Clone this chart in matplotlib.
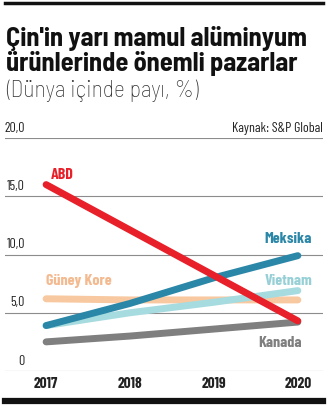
import matplotlib.pyplot as plt

COND = ['Barlow Condensed', 'Roboto Condensed', 'DejaVu Sans']
SEMI = ['Barlow Semi Condensed', 'Barlow Condensed', 'Roboto Condensed', 'DejaVu Sans']
plt.rcParams['font.family'] = COND

years = [2017, 2018, 2019, 2020]
abd = [16.0, 12.1, 8.2, 4.3]
meksika = [3.9, 5.8, 8.0, 9.9]
guney_kore = [6.2, 6.1, 6.1, 6.1]
vietnam = [3.9, 5.0, 5.9, 6.9]
kanada = [2.5, 3.0, 3.6, 4.2]
yticks = [0, 5, 10, 15, 20]

W, H = 334, 411
fig = plt.figure(figsize=(W / 100, H / 100), dpi=100)
ax = fig.add_axes([5 / W, (H - 371) / H, 318 / W, 233 / H])
ax.set_xlim(2016.51, 2020.30)
ax.set_ylim(0, 20)
ax.axis('off')

for v in yticks:
    ax.axhline(v, color='#8c8c8c', lw=0.8, zorder=1)
    lab = '0' if v == 0 else f'{v:.1f}'.replace('.', ',')
    ax.text(20 / 318, v + 0.3, lab, transform=ax.get_yaxis_transform(),
            ha='right', va='bottom', fontsize=10, color='#222222')

series = [
    (kanada, '#7f7f7f'),
    (guney_kore, '#f8c9a0'),
    (vietnam, '#a6dbe0'),
    (meksika, '#2b87a7'),
    (abd, '#e8202a'),
]
for vals, col in series:
    ax.plot(years, vals, color=col, lw=5, solid_capstyle='round', zorder=3)

lab_kw = dict(fontsize=11.5, fontweight='bold')
ax.text(2017.06, 16.45, 'ABD', color='#e8202a', **lab_kw)
ax.text(2020.17, 11.0, 'Meksika', color='#2b87a7', ha='right', **lab_kw)
ax.text(2017.0, 7.35, 'Güney Kore', color='#f3b98f', **lab_kw)
ax.text(2020.17, 7.35, 'Vietnam', color='#96d0d6', ha='right', **lab_kw)
ax.text(2020.05, 2.05, 'Kanada', color='#7f7f7f', ha='right', **lab_kw)

for y in years:
    ax.text(y, -1.1, str(y), ha='center', va='center', fontsize=11,
            fontweight='bold', color='#222222')

ax.text(1.0, 20.3, 'Kaynak: S&P Global', transform=ax.get_yaxis_transform(),
        ha='right', va='bottom', fontsize=10, color='#222222')

# title block
fig.text(6 / W, 1 - 26 / H, "Çin'in yarı mamul alüminyum\nürünlerinde önemli pazarlar",
         fontsize=19, fontweight='bold', va='top', ha='left', family=SEMI,
         linespacing=1.0, color='#111111')
fig.text(6 / W, 1 - 79 / H, '(Dünya içinde payı, %)', fontsize=17, fontweight='light',
         va='top', ha='left', family=SEMI, color='#333333')

# rules at top and bottom
fig.add_artist(plt.Line2D([5 / W, 323 / W], [1 - 3 / H, 1 - 3 / H], color='#111111', lw=2.5))
fig.add_artist(plt.Line2D([5 / W, 323 / W], [1 - 401 / H, 1 - 401 / H], color='#111111', lw=4.5))

fig.savefig('out.png', dpi=100)
